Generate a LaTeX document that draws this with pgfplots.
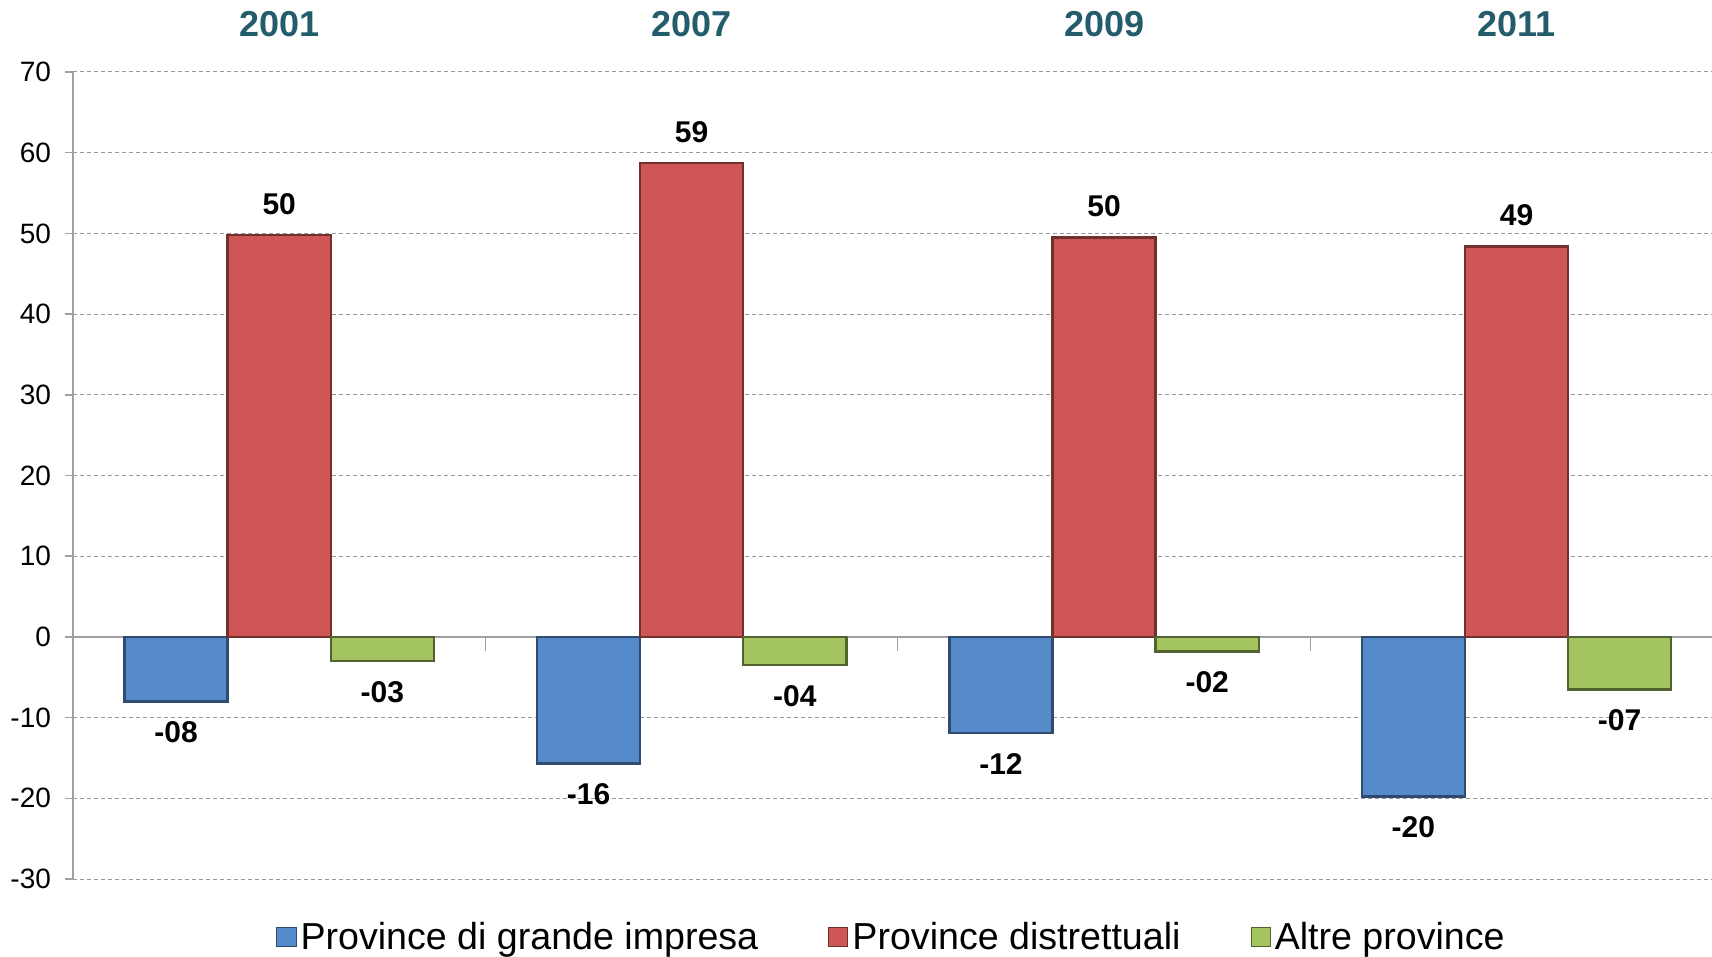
\documentclass[border=0pt]{standalone}
\usepackage{pgfplots}
\pgfplotsset{compat=1.18}
\usepackage{fontspec}
\setmainfont{Liberation Sans}

\definecolor{barblue}{RGB}{85,138,203}
\definecolor{barred}{RGB}{206,86,84}
\definecolor{bargreen}{RGB}{164,196,96}
\definecolor{yearteal}{RGB}{35,92,107}
\definecolor{axisgray}{RGB}{160,160,160}

\begin{document}
\begin{tikzpicture}
\begin{axis}[
    width=819.5pt, height=403.5pt, scale only axis,
    ybar, bar width=0.25,
    xmin=-0.5, xmax=3.474,
    ymin=-30, ymax=70,
    ytick={-30,-20,...,70},
    xtick={0,1,2,3},
    xticklabels={2001,2007,2009,2011},
    axis x line*=top,
    axis y line*=left,
    x axis line style={draw=none},
    y axis line style={axisgray, line width=0.8pt},
    xtick style={draw=none},
    ytick style={axisgray, line width=0.8pt},
    tick align=outside,
    major tick length=4pt,
    ymajorgrids,
    grid style={gray!80, dash pattern=on 2pt off 1.5pt, line width=0.5pt},
    /pgf/number format/assume math mode=true,
    yticklabel style={font=\fontsize{14}{14}\selectfont, xshift=-3.5pt},
    xticklabel style={font=\fontsize{18}{18}\selectfont\bfseries, text=yearteal, yshift=9.8pt},
    nodes near coords,
    point meta=explicit symbolic,
    every node near coord/.append style={font=\fontsize{15}{15}\selectfont\bfseries, inner ysep=9.5pt},
    legend columns=3,
    legend style={at={(0.5,-0.0719)}, anchor=center, draw=none, fill=none,
      font=\fontsize{18.8}{20}\selectfont,
      /tikz/every even column/.append style={column sep=33pt}},
    legend image code/.code={\draw[#1, line width=0.5pt] (0pt,-4.8pt) rectangle (9.6pt,4.8pt);},
  ]

  \draw[axisgray, line width=0.8pt] (axis cs:-0.5,0) -- (axis cs:3.474,0);
  \draw[axisgray, line width=0.6pt] (axis cs:0.5,0) -- ([yshift=-7pt]axis cs:0.5,0);
  \draw[axisgray, line width=0.6pt] (axis cs:1.5,0) -- ([yshift=-7pt]axis cs:1.5,0);
  \draw[axisgray, line width=0.6pt] (axis cs:2.5,0) -- ([yshift=-7pt]axis cs:2.5,0);

  \addplot[bar shift=-0.25, fill=barblue, draw=barblue!55!black, line width=1.2pt,
    every node near coord/.append style={anchor=north}]
    coordinates {(0,-8.0)[-08] (1,-15.7)[-16] (2,-11.9)[-12] (3,-19.8)[-20]};
  \addplot[bar shift=0, fill=barred, draw=barred!55!black, line width=1.2pt,
    every node near coord/.append style={anchor=south}]
    coordinates {(0,49.8)[50] (1,58.7)[59] (2,49.5)[50] (3,48.4)[49]};
  \addplot[bar shift=0.25, fill=bargreen, draw=bargreen!50!black, line width=1.2pt,
    every node near coord/.append style={anchor=north}]
    coordinates {(0,-3.0)[-03] (1,-3.5)[-04] (2,-1.8)[-02] (3,-6.5)[-07]};

  \legend{Province di grande impresa, Province distrettuali, Altre province}
\end{axis}
\pgfresetboundingbox
\path[use as bounding box] ([xshift=-36.5pt, yshift=-38.5pt]current axis.south west) rectangle ([yshift=36pt]current axis.north east);
\end{tikzpicture}
\end{document}
